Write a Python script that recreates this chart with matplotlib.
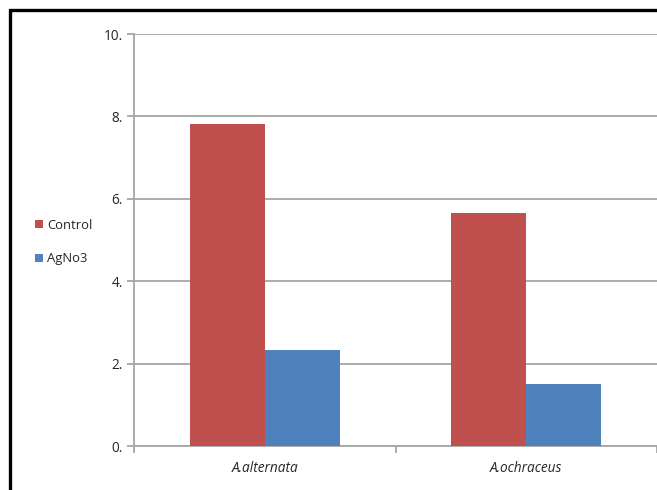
import numpy as np
import matplotlib
matplotlib.use("Agg")
import matplotlib.pyplot as plt
from matplotlib.patches import Rectangle
from matplotlib.ticker import FuncFormatter, FixedLocator

categories = ["A.alternata", "A.ochraceus"]
control = [7.82, 5.66]
agno3 = [2.33, 1.50]
series_names = ["Control", "AgNo3"]

RED = "#C0504D"
BLUE = "#4F81BD"
GRID = "#A6A6A6"
TXT = "#262626"

plt.rcParams["font.family"] = ["Open Sans", "DejaVu Sans"]

fig = plt.figure(figsize=(6.57, 4.90), dpi=100)
ax = fig.add_axes([134 / 657, 1 - 446 / 490, 523 / 657, 412 / 490])

x = np.arange(len(categories))
w = 0.287
ax.bar(x - w / 2, control, width=w, color=RED, label=series_names[0], zorder=3)
ax.bar(x + w / 2, agno3, width=w, color=BLUE, label=series_names[1], zorder=3)

ax.set_xlim(-0.5, 1.5)
ax.set_ylim(0, 10)
ax.set_yticks([0, 2, 4, 6, 8, 10])
ax.yaxis.set_major_formatter(FuncFormatter(lambda v, p: f"{int(v)}."))
ax.grid(axis="y", color=GRID, linewidth=1.3, zorder=0)

ax.set_xticks(x)
ax.set_xticklabels(categories, style="italic", fontsize=9.8, color=TXT)
ax.tick_params(axis="x", which="major", length=0, pad=11)
ax.xaxis.set_minor_locator(FixedLocator([-0.5, 0.5, 1.5]))
ax.tick_params(axis="x", which="minor", length=5, color=GRID, width=1.3)
ax.tick_params(axis="y", length=5, color=GRID, width=1.3, labelsize=9.8,
               labelcolor=TXT, pad=3)

for s in ["top", "right"]:
    ax.spines[s].set_visible(False)
for s in ["left", "bottom"]:
    ax.spines[s].set_color(GRID)
    ax.spines[s].set_linewidth(1.3)

fig.legend(loc="center left", bbox_to_anchor=(23 / 657, 1 - 242 / 490),
           frameon=False, handlelength=0.65, handleheight=0.65, handletextpad=0.3,
           labelspacing=1.6, fontsize=9.4, labelcolor=TXT)

# black frame of the original picture (left and top edges visible)
fig.patches.append(Rectangle((9.5 / 657, -0.1), 1.2, 1 - 9.5 / 490 + 0.1,
                             transform=fig.transFigure, fill=False,
                             edgecolor="black", linewidth=2.4))

fig.savefig("out.png", dpi=100)
